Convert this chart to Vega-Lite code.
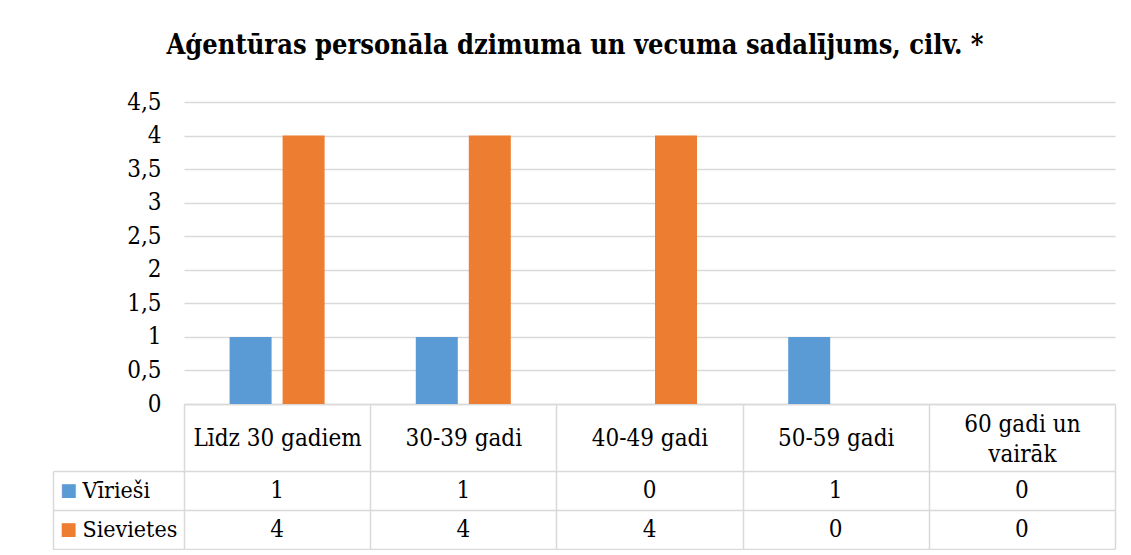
{
  "$schema": "https://vega.github.io/schema/vega-lite/v6.json",
  "padding": {"left": 52, "top": 32, "right": 10, "bottom": 0},
  "background": "white",
  "title": {
    "text": "Aģentūras personāla dzimuma un vecuma sadalījums, cilv. *",
    "font": "DejaVu Serif Condensed",
    "fontSize": 27,
    "fontWeight": "bold",
    "color": "#000000",
    "anchor": "middle",
    "dx": -9,
    "offset": 30
  },
  "data": {
    "values": [
      {"group": "Līdz 30 gadiem", "gender": "Vīrieši", "value": 1},
      {"group": "Līdz 30 gadiem", "gender": "Sievietes", "value": 4},
      {"group": "30-39 gadi", "gender": "Vīrieši", "value": 1},
      {"group": "30-39 gadi", "gender": "Sievietes", "value": 4},
      {"group": "40-49 gadi", "gender": "Vīrieši", "value": 0},
      {"group": "40-49 gadi", "gender": "Sievietes", "value": 4},
      {"group": "50-59 gadi", "gender": "Vīrieši", "value": 1},
      {"group": "50-59 gadi", "gender": "Sievietes", "value": 0},
      {"group": "60 gadi un vairāk", "gender": "Vīrieši", "value": 0},
      {"group": "60 gadi un vairāk", "gender": "Sievietes", "value": 0}
    ]
  },
  "bounds": "flush",
  "spacing": 67,
  "resolve": {"scale": {"x": "independent", "y": "independent"}},
  "config": {"view": {"stroke": null}},
  "vconcat": [
    {
      "width": 931,
      "height": 302,
      "mark": {"type": "bar"},
      "encoding": {
        "x": {
          "field": "group",
          "type": "nominal",
          "sort": ["Līdz 30 gadiem", "30-39 gadi", "40-49 gadi", "50-59 gadi", "60 gadi un vairāk"],
          "scale": {"paddingInner": 0, "paddingOuter": 0},
          "axis": {
            "title": null,
            "orient": "bottom",
            "domain": true,
            "domainColor": "#d9d9d9",
            "domainWidth": 1.5,
            "ticks": true,
            "tickBand": "extent",
            "tickSize": 68,
            "tickColor": "#d9d9d9",
            "tickWidth": 1.5,
            "labelPadding": {"condition": {"test": "datum.value == '60 gadi un vairāk'", "value": -48}, "value": -34},
            "labelBaseline": "middle",
            "labelAngle": 0,
            "labelFont": "DejaVu Serif Condensed",
            "labelFontSize": 24,
            "labelColor": "#000000",
            "labelLimit": 0,
            "labelOverlap": false,
            "labelLineHeight": 30,
            "labelExpr": "datum.value == '60 gadi un vairāk' ? ['60 gadi un', 'vairāk'] : datum.label"
          }
        },
        "xOffset": {
          "field": "gender",
          "type": "nominal",
          "sort": ["Vīrieši", "Sievietes"],
          "scale": {"paddingInner": 0.2075, "paddingOuter": 0.86}
        },
        "y": {
          "field": "value",
          "type": "quantitative",
          "scale": {"domain": [0, 4.5], "nice": false},
          "axis": {
            "title": null,
            "values": [0, 0.5, 1, 1.5, 2, 2.5, 3, 3.5, 4, 4.5],
            "domain": false,
            "ticks": false,
            "grid": true,
            "gridColor": "#d9d9d9",
            "gridWidth": 1.5,
            "labelPadding": 23,
            "labelFont": "DejaVu Serif Condensed",
            "labelFontSize": 24,
            "labelColor": "#000000",
            "labelExpr": "replace(format(datum.value, '~g'), '.', ',')"
          }
        },
        "color": {
          "field": "gender",
          "type": "nominal",
          "scale": {"domain": ["Vīrieši", "Sievietes"], "range": ["#5b9bd5", "#ed7d31"]},
          "legend": null
        }
      }
    },
    {
      "width": 931,
      "height": 78,
      "encoding": {
        "x": {
          "field": "group",
          "type": "nominal",
          "sort": ["Līdz 30 gadiem", "30-39 gadi", "40-49 gadi", "50-59 gadi", "60 gadi un vairāk"],
          "scale": {"paddingInner": 0, "paddingOuter": 0},
          "axis": {
            "title": null,
            "orient": "bottom",
            "domain": false,
            "ticks": false,
            "labels": false,
            "grid": true,
            "tickBand": "extent",
            "gridColor": "#d9d9d9",
            "gridWidth": 1.5
          }
        }
      },
      "layer": [
        {
          "mark": {"type": "text", "font": "DejaVu Serif Condensed", "fontSize": 24, "color": "#000000", "baseline": "middle"},
          "encoding": {
            "y": {
              "field": "gender",
              "type": "nominal",
              "sort": ["Vīrieši", "Sievietes"],
              "scale": {"paddingInner": 0, "paddingOuter": 0},
              "axis": {
                "title": null,
                "orient": "left",
                "offset": 131,
                "domain": true,
                "domainColor": "#d9d9d9",
                "domainWidth": 1.5,
                "ticks": true,
                "tickBand": "extent",
                "tickSize": -131,
                "tickColor": "#d9d9d9",
                "tickWidth": 1.5,
                "grid": true,
                "gridColor": "#d9d9d9",
                "gridWidth": 1.5,
                "labelAlign": "left",
                "labelBaseline": "middle",
                "labelPadding": 102,
                "labelFont": "DejaVu Serif Condensed",
                "labelFontSize": 23,
                "labelColor": "#000000"
              }
            },
            "text": {"field": "value", "type": "quantitative"}
          }
        },
        {
          "mark": {"type": "text", "opacity": 0},
          "encoding": {
            "y": {
              "field": "gender",
              "type": "nominal",
              "sort": ["Vīrieši", "Sievietes"],
              "axis": {
                "title": null,
                "orient": "left",
                "domain": false,
                "ticks": false,
                "grid": false,
                "labelAlign": "left",
                "labelBaseline": "middle",
                "labelPadding": 124.5,
                "labelFont": "DejaVu Sans",
                "labelFontSize": 18,
                "labelExpr": "'■'",
                "labelColor": {"condition": {"test": "datum.value === 'Vīrieši'", "value": "#5b9bd5"}, "value": "#ed7d31"}
              }
            },
            "text": {"field": "value", "type": "quantitative"}
          }
        }
      ],
      "resolve": {"axis": {"y": "independent"}}
    }
  ]
}
